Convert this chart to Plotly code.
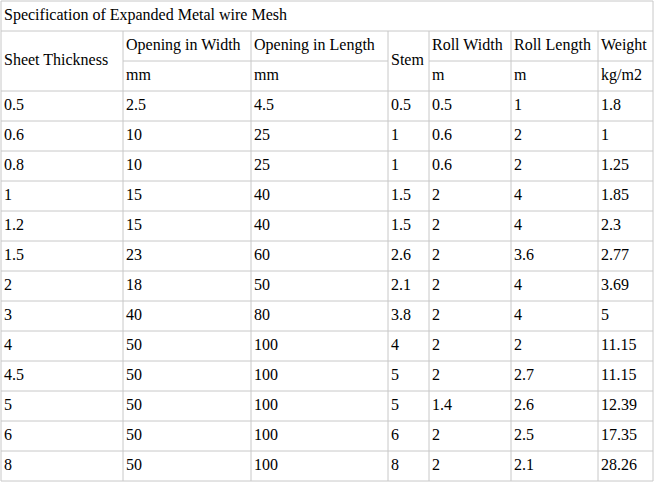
import plotly.graph_objects as go

title = "Specification of Expanded Metal wire Mesh"
headers = ["Sheet Thickness", "Opening in Width", "Opening in Length", "Stem",
           "Roll Width", "Roll Length", "Weight"]
units = ["", "mm", "mm", "", "m", "m", "kg/m2"]

sheet_thickness = ["0.5", "0.6", "0.8", "1", "1.2", "1.5", "2", "3", "4", "4.5", "5", "6", "8"]
opening_width = ["2.5", "10", "10", "15", "15", "23", "18", "40", "50", "50", "50", "50", "50"]
opening_length = ["4.5", "25", "25", "40", "40", "60", "50", "80", "100", "100", "100", "100", "100"]
stem = ["0.5", "1", "1", "1.5", "1.5", "2.6", "2.1", "3.8", "4", "5", "5", "6", "8"]
roll_width = ["0.5", "0.6", "0.6", "2", "2", "2", "2", "2", "2", "2", "1.4", "2", "2"]
roll_length = ["1", "2", "2", "4", "4", "3.6", "4", "4", "2", "2.7", "2.6", "2.5", "2.1"]
weight = ["1.8", "1", "1.25", "1.85", "2.3", "2.77", "3.69", "5", "11.15", "11.15", "12.39", "17.35", "28.26"]

columns = [sheet_thickness, opening_width, opening_length, stem, roll_width, roll_length, weight]

# layout geometry (pixels)
col_edges = [1, 123, 251, 388, 429, 511, 598, 653]
top, title_h, row_h = 1, 30, 30
n_rows = len(sheet_thickness)
line_col = "#c8c8c8"
pad = 3
font = dict(family="Liberation Serif", size=16, color="black")

fig = go.Figure()
shapes = []

def hline(y, x0, x1):
    shapes.append(dict(type="line", x0=x0, x1=x1, y0=y, y1=y, line=dict(color=line_col, width=1)))

def vline(x, y0, y1):
    shapes.append(dict(type="line", x0=x, x1=x, y0=y0, y1=y1, line=dict(color=line_col, width=1)))

y_head = top + title_h
y_data = y_head + 2 * row_h
bottom = y_data + n_rows * row_h

hline(top, col_edges[0], col_edges[-1])
hline(y_head, col_edges[0], col_edges[-1])
for i in range(len(headers)):
    if units[i]:
        hline(y_head + row_h, col_edges[i], col_edges[i + 1])
for r in range(n_rows + 1):
    hline(y_data + r * row_h, col_edges[0], col_edges[-1])
vline(col_edges[0], top, bottom)
vline(col_edges[-1], top, bottom)
for x in col_edges[1:-1]:
    vline(x, y_head, bottom)

xs, ys, ts = [col_edges[0] + pad], [top + title_h / 2], [title]
for i, h in enumerate(headers):
    x = col_edges[i] + pad
    if units[i]:
        xs += [x, x]
        ys += [y_head + row_h / 2, y_head + 1.5 * row_h]
        ts += [h, units[i]]
    else:
        xs.append(x)
        ys.append(y_head + row_h)
        ts.append(h)
    for r, v in enumerate(columns[i]):
        xs.append(x)
        ys.append(y_data + (r + 0.5) * row_h)
        ts.append(v)

fig.add_trace(go.Scatter(x=xs, y=ys, text=ts, mode="text", textposition="middle right",
                         textfont=font, hoverinfo="skip", showlegend=False))

fig.update_layout(
    width=659, height=486, margin=dict(l=0, r=0, t=0, b=0),
    plot_bgcolor="white", paper_bgcolor="white", shapes=shapes,
    xaxis=dict(range=[0, 659], visible=False, fixedrange=True),
    yaxis=dict(range=[486, 0], visible=False, fixedrange=True),
)
# drop the default page margin so the table sits at the window corner
fig.write_html("out.html", config={"displayModeBar": False},
               post_script="document.body.style.margin='0';")
